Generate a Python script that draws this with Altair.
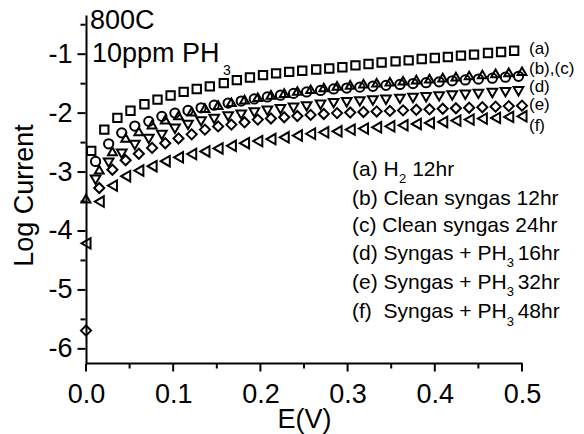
import altair as alt
import pandas as pd

# Potential (V) at which each series was sampled
E_grid = [0.0000, 0.0152, 0.0303, 0.0455, 0.0606, 0.0758, 0.0909, 0.1061, 0.1212, 0.1364,
          0.1515, 0.1667, 0.1818, 0.1970, 0.2121, 0.2273, 0.2424, 0.2576, 0.2727, 0.2879,
          0.3030, 0.3182, 0.3333, 0.3485, 0.3636, 0.3788, 0.3939, 0.4091, 0.4242, 0.4394,
          0.4545, 0.4697, 0.4848, 0.5000]
E_a = [0.006, 0.021, 0.036, 0.051, 0.067, 0.082, 0.097, 0.112, 0.127, 0.142,
       0.158, 0.173, 0.188, 0.203, 0.218, 0.233, 0.248, 0.264, 0.279, 0.294,
       0.309, 0.324, 0.339, 0.355, 0.370, 0.385, 0.400, 0.415, 0.430, 0.445,
       0.461, 0.476, 0.491]
E_cd = [0.011, 0.026, 0.041, 0.056, 0.072, 0.087, 0.102, 0.117, 0.132, 0.147,
        0.163, 0.178, 0.193, 0.208, 0.223, 0.238, 0.253, 0.269, 0.284, 0.299,
        0.314, 0.329, 0.344, 0.360, 0.375, 0.390, 0.405, 0.420, 0.435, 0.450,
        0.466, 0.481, 0.496]

# Log current for each condition
log_a = [-2.64, -2.28, -2.08, -1.96, -1.85, -1.77, -1.70, -1.64, -1.59, -1.545,
         -1.49, -1.44, -1.395, -1.355, -1.325, -1.30, -1.28, -1.26, -1.243, -1.222,
         -1.19, -1.166, -1.14, -1.122, -1.105, -1.081, -1.064, -1.047, -1.025, -1.008,
         -0.98, -0.963, -0.941]
log_b = [-3.45, -2.96, -2.65, -2.42, -2.31, -2.195, -2.11, -2.04, -1.975, -1.915,
         -1.865, -1.815, -1.77, -1.73, -1.69, -1.66, -1.625, -1.595, -1.565, -1.537,
         -1.52, -1.502, -1.485, -1.467, -1.45, -1.432, -1.415, -1.397, -1.38, -1.362,
         -1.344, -1.326, -1.308, -1.29]
log_c = [-2.82, -2.52, -2.335, -2.22, -2.14, -2.055, -2.00, -1.955, -1.91, -1.865,
         -1.83, -1.795, -1.76, -1.725, -1.695, -1.665, -1.64, -1.615, -1.59, -1.575,
         -1.559, -1.544, -1.529, -1.514, -1.498, -1.483, -1.468, -1.452, -1.437, -1.422,
         -1.407, -1.391, -1.376]
log_d = [-3.13, -2.84, -2.69, -2.54, -2.44, -2.37, -2.265, -2.20, -2.14, -2.10,
         -2.055, -2.025, -1.99, -1.96, -1.935, -1.91, -1.885, -1.857, -1.83, -1.816,
         -1.801, -1.787, -1.773, -1.759, -1.744, -1.73, -1.716, -1.701, -1.687, -1.673,
         -1.659, -1.644, -1.63]
log_e = [-5.69, -3.27, -2.96, -2.80, -2.69, -2.59, -2.51, -2.43, -2.36, -2.28,
         -2.225, -2.195, -2.156, -2.11, -2.09, -2.07, -2.05, -2.03, -2.015, -2.0,
         -1.99, -1.98, -1.971, -1.962, -1.953, -1.944, -1.935, -1.926, -1.917, -1.908,
         -1.899, -1.89, -1.881, -1.873]
log_f = [-4.21, -3.50, -3.23, -3.07, -2.975, -2.90, -2.815, -2.75, -2.695, -2.65,
         -2.60, -2.555, -2.51, -2.475, -2.44, -2.41, -2.38, -2.35, -2.325, -2.308,
         -2.28, -2.263, -2.241, -2.224, -2.207, -2.183, -2.166, -2.149, -2.127, -2.11,
         -2.093, -2.081, -2.064, -2.054]

series_keys = ["a", "b", "c", "d", "e", "f"]
series_E = [E_a, E_grid, E_cd, E_cd, E_grid, E_grid]
series_L = [log_a, log_b, log_c, log_d, log_e, log_f]

x_ticks = [0.0, 0.05, 0.1, 0.15, 0.2, 0.25, 0.3, 0.35, 0.4, 0.45, 0.5]
y_ticks = [-6.0, -5.5, -5.0, -4.5, -4.0, -3.5, -3.0, -2.5, -2.0, -1.5, -1.0, -0.5]

rows = []
for key, xs, ys in zip(series_keys, series_E, series_L):
    for xv, yv in zip(xs, ys):
        rows.append({"s": key, "E": xv, "L": yv})
df = pd.DataFrame(rows)

# Annotation texts: (text, E, LogCurrent, font size)
note_text = ["800C", "10ppm PH", "3",
             "(a) H", "2", "12hr",
             "(b) Clean syngas 12hr",
             "(c) Clean syngas 24hr",
             "(d) Syngas + PH", "3", "16hr",
             "(e) Syngas + PH", "3", "32hr",
             "(f)\u00a0 Syngas + PH", "3", "48hr",
             "(a)", "(b),(c)", "(d)", "(e)", "(f)"]
note_E = [0.0046, 0.0069, 0.157,
          0.305, 0.359, 0.374,
          0.305,
          0.305,
          0.305, 0.4825, 0.495,
          0.305, 0.4825, 0.495,
          0.305, 0.4825, 0.495,
          0.508, 0.508, 0.508, 0.508, 0.508]
note_L = [-0.437, -0.995, -1.283,
          -2.958, -3.11, -2.958,
          -3.449,
          -3.923,
          -4.396, -4.55, -4.396,
          -4.887, -5.04, -4.887,
          -5.378, -5.55, -5.378,
          -0.91, -1.245, -1.553, -1.86, -2.213]
note_size = [27, 27, 14,
             21, 13, 21,
             21,
             21,
             21, 13, 21,
             21, 13, 21,
             21, 13, 21,
             17, 17, 17, 17, 17]
notes = pd.DataFrame({"t": note_text, "E": note_E, "L": note_L, "fs": note_size})

FONT = "Liberation Sans"
PLOT_W, PLOT_H = 436, 348
X_LO, X_HI = 0.0, 0.5
Y_LO, Y_HI = -6.24, -0.335

# Axis ticks as thin bars just outside the plot: long at labelled values, short between
x_per_px = (X_HI - X_LO) / PLOT_W
y_per_px = (Y_HI - Y_LO) / PLOT_H
xt_rows, yt_rows = [], []
for v in x_ticks:
    n = 8 if abs(v * 10 - round(v * 10)) < 1e-6 else 5
    xt_rows.append({"E": v, "L": Y_LO - (n / 2 + 0.5) * y_per_px, "n": n})
for v in y_ticks:
    n = 8 if abs(v - round(v)) < 1e-6 else 5
    yt_rows.append({"E": X_LO - (n / 2 + 0.5) * x_per_px, "L": v, "n": n})
xt_df = pd.DataFrame(xt_rows)
yt_df = pd.DataFrame(yt_rows)

x_axis = alt.Axis(
    values=x_ticks,
    labelExpr="abs(datum.value*10 - round(datum.value*10)) < 0.001 ? format(datum.value, '.1f') : ''",
    ticks=False, tickSize=0,
    title="E(V)",
    titleY=56, titleBaseline="middle",
    labelFlush=False, labelOverlap=False, labelPadding=18,
    grid=False,
)
y_axis = alt.Axis(
    values=y_ticks,
    labelExpr="abs(datum.value - round(datum.value)) < 0.001 ? '' + round(datum.value) : ''",
    ticks=False, tickSize=0,
    title="Log Current",
    titleX=-62, titleY=180, titleAngle=270, titleAlign="center", titleBaseline="middle",
    labelFlush=False, labelOverlap=False, labelPadding=14,
    grid=False,
)

x_enc = alt.X("E:Q", scale=alt.Scale(domain=[X_LO, X_HI], nice=False, zero=False), axis=x_axis)
y_enc = alt.Y("L:Q", scale=alt.Scale(domain=[Y_LO, Y_HI], nice=False, zero=False), axis=y_axis)

points = alt.Chart(df).mark_point(filled=False, strokeWidth=2, opacity=1, color="black").encode(
    x=x_enc,
    y=y_enc,
    shape=alt.Shape("s:N", scale=alt.Scale(
        domain=series_keys,
        range=["square", "triangle-up", "circle", "triangle-down", "diamond", "triangle-left"]),
        legend=None),
    size=alt.Size("s:O", scale=alt.Scale(domain=series_keys, range=[70, 110, 50, 105, 80, 100]),
                  legend=None),
)

x_tick_marks = alt.Chart(xt_df).mark_tick(orient="vertical", thickness=2, color="black", opacity=1).encode(
    x="E:Q", y="L:Q", size=alt.Size("n:Q", scale=None),
)
y_tick_marks = alt.Chart(yt_df).mark_tick(orient="horizontal", thickness=2, color="black", opacity=1).encode(
    x="E:Q", y="L:Q", size=alt.Size("n:Q", scale=None),
)

labels = alt.Chart(notes).mark_text(align="left", baseline="middle", font=FONT, color="black").encode(
    x="E:Q",
    y="L:Q",
    text="t:N",
    size=alt.Size("fs:Q", scale=None),
)

chart = alt.layer(points, x_tick_marks, y_tick_marks, labels).resolve_scale(
    size="independent", shape="independent"
).properties(
    width=PLOT_W,
    height=PLOT_H,
    autosize=alt.AutoSizeParams(type="none"),
    padding={"left": 86, "top": 15, "right": 62, "bottom": 71},
    background="white",
).configure_view(stroke=None).configure_axis(
    domainColor="black", domainWidth=2,
    labelFont=FONT, labelFontSize=27, labelColor="black",
    titleFont=FONT, titleFontSize=27, titleFontWeight="normal", titleColor="black",
)

chart.save("out.html", embed_options={"renderer": "svg", "actions": False})
